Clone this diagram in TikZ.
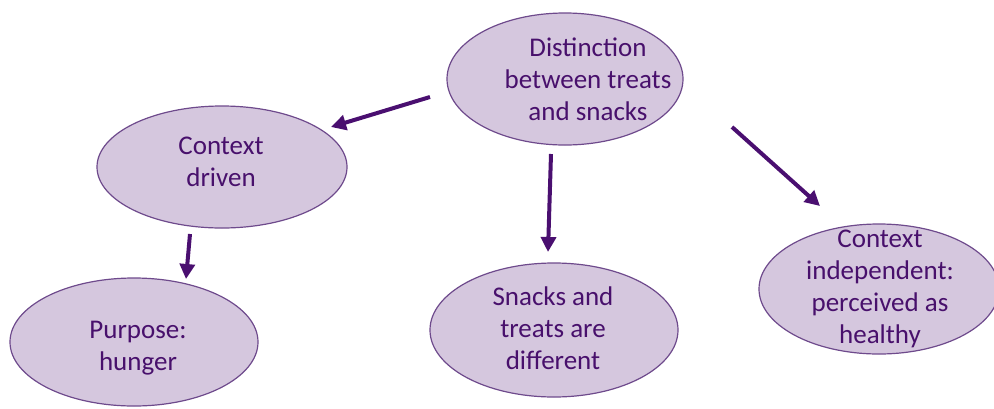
\documentclass[tikz,border=0pt]{standalone}
\usepackage{fontspec}
\setmainfont{Carlito}
\usetikzlibrary{shapes.geometric,arrows.meta}
\definecolor{efill}{HTML}{D5C7DE}
\definecolor{edraw}{HTML}{6E4A8C}
\definecolor{etext}{HTML}{48106C}
\definecolor{arr}{HTML}{4A0F70}
\tikzset{
  bubble/.style={ellipse, draw=edraw, fill=efill, line width=1.2pt},
  btext/.style={text=etext, inner sep=0pt, align=center, font=\fontsize{27}{32}\selectfont},
  link/.style={draw=arr, line width=4pt, -{Triangle[length=15pt,width=15pt]}}
}
\begin{document}
\begin{tikzpicture}[x=1pt,y=-1pt]
\useasboundingbox (0,0) rectangle (994,408);
\node[bubble, minimum width=236pt, minimum height=132pt] (dist) at (565,79) {};
\node[btext] (distt) at (588,79) {Distinction\\between treats\\and snacks};
\node[bubble, minimum width=250pt, minimum height=122pt] (ctx) at (222,167) {};
\node[btext] (ctxt) at (221,162) {Context\\driven};
\node[bubble, minimum width=248pt, minimum height=128pt] (purp) at (134,342) {};
\node[btext] (purpt) at (138,348) {Purpose:\\hunger};
\node[bubble, minimum width=248pt, minimum height=134pt] (snk) at (554,330) {};
\node[btext] (snkt) at (553,328) {Snacks and\\treats are\\different};
\node[bubble, minimum width=240pt, minimum height=130pt] (ind) at (879,289) {};
\node[btext] (indt) at (880,289) {Context\\independent:\\perceived as\\healthy};
\coordinate (a1s) at (430,97);  \coordinate (a1e) at (331,127);
\coordinate (a2s) at (190,234); \coordinate (a2e) at (186,279);
\coordinate (a3s) at (551,154); \coordinate (a3e) at (548,252);
\coordinate (a4s) at (732,127); \coordinate (a4e) at (820,206);
\draw[link] (a1s) -- (a1e);
\draw[link] (a2s) -- (a2e);
\draw[link] (a3s) -- (a3e);
\draw[link] (a4s) -- (a4e);
\end{tikzpicture}
\end{document}
